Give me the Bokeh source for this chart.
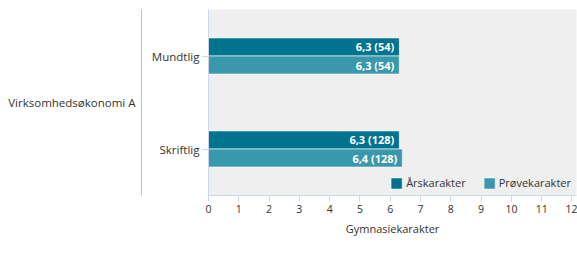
from bokeh.plotting import figure
from bokeh.models import (FactorRange, Range1d, ColumnDataSource, Legend, LegendItem,
                          FixedTicker, LabelSet, CategoricalAxis)
from bokeh.transform import dodge
from bokeh.core.properties import value
from bokeh.embed import file_html
from bokeh.resources import INLINE

# ---- data ----
group_label = "Virksomhedsøkonomi A"
categories = ["Mundtlig", "Skriftlig"]
series_names = ["Årskarakter", "Prøvekarakter"]
aars_values = [6.3, 6.3]
aars_counts = [54, 128]
proeve_values = [6.3, 6.4]
proeve_counts = [54, 128]
x_ticks = list(range(0, 13))
x_title = "Gymnasiekarakter"

colors = ["#00738f", "#3a98ad"]
FONT = "Open Sans"

def fmt(v, n):
    return ("%.1f" % v).replace(".", ",") + " (%d)" % n

src_a = ColumnDataSource(dict(cat=categories, v=aars_values,
                              lbl=[fmt(v, n) for v, n in zip(aars_values, aars_counts)]))
src_p = ColumnDataSource(dict(cat=categories, v=proeve_values,
                              lbl=[fmt(v, n) for v, n in zip(proeve_values, proeve_counts)]))

y_range = FactorRange(factors=list(reversed(categories)), range_padding=0)
p = figure(width=577, height=270, y_range=y_range, x_range=Range1d(0, 12.15),
           output_backend="svg", toolbar_location=None,
           min_border_left=208, min_border_right=1, min_border_top=9, min_border_bottom=75)
p.background_fill_color = "#efefef"
p.border_fill_color = "white"
p.outline_line_color = None
p.xgrid.visible = False
p.ygrid.visible = False

bh = 0.194
off = 0.097
ra = p.hbar(y=dodge("cat", off, range=y_range), right="v", left=0, height=bh, source=src_a,
            fill_color=colors[0], line_color="white", line_alpha=0.6, line_width=1)
rp = p.hbar(y=dodge("cat", -off, range=y_range), right="v", left=0, height=bh, source=src_p,
            fill_color=colors[1], line_color="white", line_alpha=0.6, line_width=1)

for src, o in ((src_a, off), (src_p, -off)):
    ls = LabelSet(x="v", y=dodge("cat", o, range=y_range), text="lbl", source=src,
                  x_offset=-5, text_align="right", text_baseline="middle",
                  text_color="white", text_font=value(FONT), text_font_size="11px",
                  text_font_style="bold")
    p.add_layout(ls)

# x axis
xa = p.xaxis[0]
xa.ticker = FixedTicker(ticks=x_ticks)
xa.axis_line_color = "#ccd6eb"
xa.major_tick_line_color = "#ccd6eb"
xa.major_tick_in = 0
xa.major_tick_out = 6
xa.minor_tick_line_color = None
xa.major_label_text_font = FONT
xa.major_label_text_font_size = "10.5px"
xa.major_label_text_color = "#333333"
xa.major_label_standoff = 3
xa.axis_label = x_title
xa.axis_label_text_font = FONT
xa.axis_label_text_font_size = "11px"
xa.axis_label_text_font_style = "normal"
xa.axis_label_text_color = "#333333"
xa.axis_label_standoff = 5

# y axis (categories)
ya = p.yaxis[0]
ya.axis_line_color = "#ccd6eb"
ya.major_tick_line_color = "#ccd6eb"
ya.major_tick_in = 0
ya.major_tick_out = 6
ya.major_label_text_font = FONT
ya.major_label_text_font_size = "11.5px"
ya.major_label_text_color = "#333333"
ya.major_label_standoff = 3
ya.axis_label = " "
ya.axis_label_text_font_size = "3px"
ya.axis_label_standoff = 1

# group axis: bracket line (ticks at both ends) + group label
p.extra_y_ranges = {"grp": FactorRange(factors=[" ", "  "], range_padding=-0.5)}
ga = CategoricalAxis(y_range_name="grp")
ga.axis_line_color = "#c0c0c0"
ga.major_tick_line_color = "#c0c0c0"
ga.major_tick_in = 5
ga.major_tick_out = 0
ga.minor_tick_line_color = None
ga.major_label_standoff = 0
ga.major_label_text_font_size = "1px"
ga.axis_label = group_label
ga.axis_label_orientation = "horizontal"
ga.axis_label_standoff = 6
ga.axis_label_text_font = FONT
ga.axis_label_text_font_size = "11.5px"
ga.axis_label_text_font_style = "normal"
ga.axis_label_text_color = "#333333"
p.add_layout(ga, "left")

legend = Legend(items=[LegendItem(label=series_names[0], renderers=[ra]),
                       LegendItem(label=series_names[1], renderers=[rp])],
                orientation="horizontal", location="bottom_right", padding=0, margin=5,
                glyph_width=14, glyph_height=14, label_standoff=3, spacing=16,
                border_line_color=None, background_fill_alpha=0,
                label_text_font=FONT, label_text_font_size="11px", label_text_color="#333333",
                label_height=14)
p.add_layout(legend, "center")

open("out.html", "w").write(file_html(p, INLINE))
